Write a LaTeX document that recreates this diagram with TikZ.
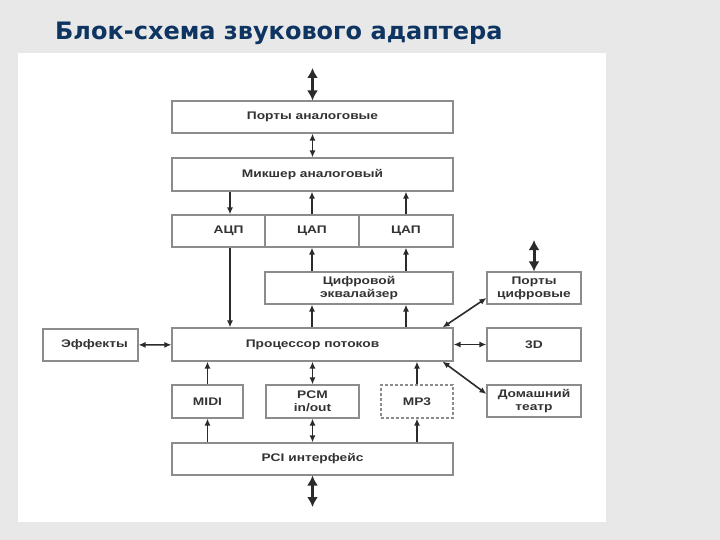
\documentclass[tikz,border=0pt]{standalone}
\usepackage{fontspec}
\usetikzlibrary{arrows.meta}
\newfontfamily\titlefont{DejaVu Sans}
\newfontfamily\boxfont[FakeStretch=1.25]{Liberation Sans}
\definecolor{bggray}{HTML}{E8E8E8}
\definecolor{titleblue}{HTML}{0E3461}
\definecolor{boxgray}{HTML}{8C8C8C}
\definecolor{txtgray}{HTML}{333333}
\definecolor{arrgray}{HTML}{2B2B2B}

\begin{document}
\begin{tikzpicture}[x=1pt,y=-1pt,>={Latex[length=7pt,width=6pt]},
    box/.style={draw=boxgray,fill=white,line width=1.1pt,inner sep=0pt,minimum height=32pt,
                align=center,text=txtgray,font=\boxfont\bfseries\fontsize{11}{13}\selectfont},
    every edge/.style={draw=arrgray,line width=1.6pt},
    bus/.style={line width=3pt,{Latex[length=10pt,width=11pt]}-{Latex[length=10pt,width=11pt]}}]
    \useasboundingbox (0,0) rectangle (720,540);
    \fill[bggray] (0,0) rectangle (720,540);
    \fill[white] (18,53) rectangle (606,522);
    \node[anchor=base west,inner sep=0pt,text=titleblue,
          font=\titlefont\bfseries\fontsize{24}{28}\selectfont] (title) at (55,40) {Блок-схема звукового адаптера};

    % analog part
    \node[box,minimum width=281pt] (pa) at (312.5,117) {Порты аналоговые};
    \node[box,minimum width=281pt,minimum height=33pt] (mix) at (312.5,174.5) {Микшер аналоговый};
    \node[box,minimum width=93pt] (adc) at (218.5,231) {\hspace*{20pt}АЦП};
    \node[box,minimum width=94pt] (dac1) at (312,231) {ЦАП};
    \node[box,minimum width=94pt] (dac2) at (406,231) {ЦАП};
    \node[box,minimum width=188pt] (eq) at (359,288) {Цифровой\\эквалайзер};

    % processor and side blocks
    \node[box,minimum width=281pt,minimum height=33pt] (proc) at (312.5,344.5) {Процессор потоков};
    \node[box,minimum width=95pt] (fx) at (90.5,345) {\hspace*{8pt}Эффекты};
    \node[box,minimum width=94pt] (pd) at (534,288) {Порты\\цифровые};
    \node[box,minimum width=94pt,minimum height=33pt] (d3) at (534,344.5) {3D};
    \node[box,minimum width=94pt] (ht) at (534,401) {Домашний\\театр};

    % inputs and bus
    \node[box,minimum width=71pt,minimum height=33pt] (midi) at (207.5,401.5) {MIDI};
    \node[box,minimum width=93pt,minimum height=33pt] (pcm) at (312.5,401.5) {PCM\\in/out};
    \node[box,minimum width=72pt,minimum height=33pt,dashed,dash pattern=on 3pt off 2pt] (mp3) at (417,401.5) {MP3};
    \node[box,minimum width=281pt] (pci) at (312.5,459) {PCI интерфейс};

    \coordinate (adcx) at ([xshift=11.5pt]adc.north);
    \coordinate (topend) at (312.5,68);
    \coordinate (botend) at (312.5,507);
    \coordinate (pdend) at (534,240);

    \path
    (topend) edge[bus] (pa.north)
    (pa) edge[<->] (mix)
    (adcx |- mix.south) edge[->] (adcx)
    (dac1.north) edge[->] (dac1.north |- mix.south)
    (dac2.north) edge[->] (dac2.north |- mix.south)
    (dac1.south |- eq.north) edge[->] (dac1.south)
    (dac2.south |- eq.north) edge[->] (dac2.south)
    (adcx |- adc.south) edge[->] (adcx |- proc.north)
    (dac1.south |- proc.north) edge[->] (dac1.south |- eq.south)
    (dac2.south |- proc.north) edge[->] (dac2.south |- eq.south)
    (fx) edge[<->] (proc)
    (proc) edge[<->] (d3)
    ([xshift=-11pt]proc.north east) edge[<->] ([yshift=-10pt]pd.west)
    ([xshift=-11pt]proc.south east) edge[<->] ([yshift=7pt]ht.west)
    (pdend) edge[bus] (pd.north)
    (midi) edge[->] (midi |- proc.south)
    (midi |- pci.north) edge[->] (midi)
    (pcm) edge[<->] (proc)
    (pcm) edge[<->] (pci)
    (mp3) edge[->] (mp3 |- proc.south)
    (mp3 |- pci.north) edge[->] (mp3)
    (pci.south) edge[bus] (botend)
    ;
\end{tikzpicture}
\end{document}
